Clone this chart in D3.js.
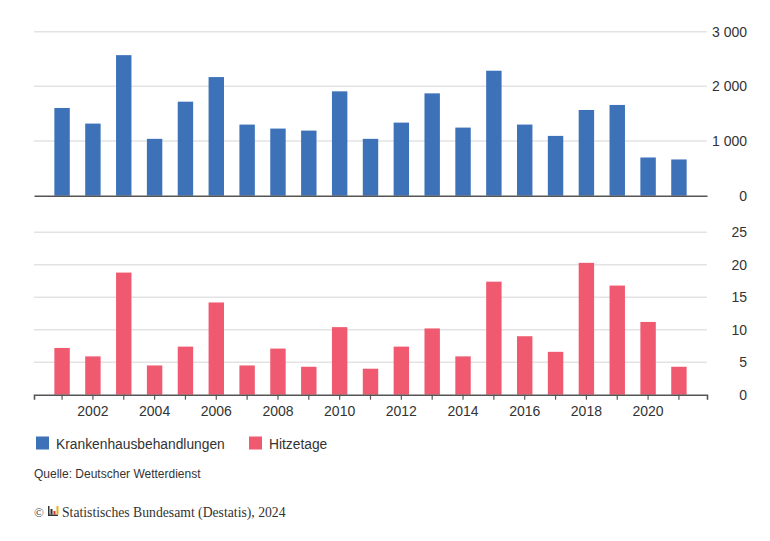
<!DOCTYPE html>
<html>
<head>
<meta charset="utf-8">
<script src="https://cdn.jsdelivr.net/npm/d3@7"></script>
<style>
  body { margin: 0; background: #fff; }
  svg { display: block; font-family: "Liberation Sans", Arial, sans-serif; }
</style>
</head>
<body>
<svg id="chart" width="770" height="541"></svg>
<script>
const years = d3.range(2001, 2022);
const behandlungen = [1605, 1319, 2571, 1040, 1720, 2170, 1301, 1228, 1191, 1909, 1040,
  1337, 1872, 1246, 2286, 1301, 1094, 1568, 1660, 699, 663];
const hitzetage = [7.2, 5.9, 18.8, 4.5, 7.4, 14.2, 4.5, 7.1, 4.3, 10.4, 4.0,
  7.4, 10.2, 5.9, 17.4, 9.0, 6.6, 20.3, 16.8, 11.2, 4.3];
const topTicks = [0, 1000, 2000, 3000];
const bottomTicks = [0, 5, 10, 15, 20, 25];
const seriesNames = ["Krankenhausbehandlungen", "Hitzetage"];
const colors = ["#3d71b8", "#f05a71"];

const svg = d3.select("#chart");
const left = 34, right = 707, labelX = 747;

const de = d3.formatLocale({ decimal: ",", thousands: " ", grouping: [3], currency: ["", " €"] });
const fmt = de.format(",");

const x = d3.scaleBand()
  .domain(years)
  .range([left, right])
  .paddingInner(0.5)
  .paddingOuter(0.66);

function panel(values, ticks, y0, y1, color, showYears) {
  const y = d3.scaleLinear().domain([0, d3.max(ticks)]).range([y0, y1]);
  const g = svg.append("g");

  // gridlines
  g.append("g")
    .selectAll("line")
    .data(ticks.filter(d => d > 0))
    .join("line")
    .attr("x1", left)
    .attr("x2", right)
    .attr("y1", d => y(d))
    .attr("y2", d => y(d))
    .attr("stroke", "#e3e3e3")
    .attr("stroke-width", 1.5);

  // labels on the right
  const yAxis = g.append("g")
    .attr("transform", `translate(${labelX},0)`)
    .call(d3.axisRight(y).tickValues(ticks).tickSize(0).tickPadding(0).tickFormat(fmt));
  yAxis.select(".domain").remove();
  yAxis.selectAll("text")
    .attr("text-anchor", "end")
    .attr("fill", "#333")
    .style("font-size", "14px");

  g.append("g")
    .selectAll("rect")
    .data(values)
    .join("rect")
    .attr("x", (d, i) => x(years[i]))
    .attr("width", x.bandwidth())
    .attr("y", d => y(d))
    .attr("height", d => y0 - y(d))
    .attr("fill", color);

  const xAxis = g.append("g")
    .attr("transform", `translate(0,${y0})`)
    .call(d3.axisBottom(x)
      .tickSizeOuter(0)
      .tickSize(showYears ? 5 : 0)
      .tickPadding(6)
      .tickFormat(d => (showYears && d % 2 === 0) ? d : ""));
  xAxis.select(".domain").attr("stroke", "#555").attr("stroke-width", 1.6);
  xAxis.selectAll(".tick line").attr("stroke", "#555").attr("stroke-width", 1.2);
  xAxis.selectAll("text").attr("fill", "#333").style("font-size", "14px");
}

panel(behandlungen, topTicks, 195.7, 31.7, colors[0], false);
panel(hitzetage, bottomTicks, 394.7, 232.3, colors[1], true);

// legend
const legend = svg.append("g");
const legendX = [36, 249];
seriesNames.forEach((name, i) => {
  legend.append("rect")
    .attr("x", legendX[i])
    .attr("y", 436.5)
    .attr("width", 13)
    .attr("height", 13)
    .attr("fill", colors[i]);
  legend.append("text")
    .attr("x", legendX[i] + 20)
    .attr("y", 449)
    .attr("fill", "#333")
    .style("font-size", "13.8px")
    .text(name);
});

svg.append("text")
  .attr("x", 34)
  .attr("y", 477.5)
  .attr("fill", "#333")
  .style("font-size", "12px")
  .text("Quelle: Deutscher Wetterdienst");

// copyright line
const foot = svg.append("g");
foot.append("text")
  .attr("x", 34)
  .attr("y", 517)
  .attr("fill", "#444")
  .style("font-family", "'Liberation Serif', 'Times New Roman', serif")
  .style("font-size", "13px")
  .text("©");
const logo = foot.append("g").attr("transform", "translate(48,506)");
logo.append("rect").attr("x", 0).attr("y", 0).attr("width", 1.5).attr("height", 10).attr("fill", "#333");
logo.append("rect").attr("x", 0).attr("y", 8.5).attr("width", 10).attr("height", 1.5).attr("fill", "#333");
logo.append("rect").attr("x", 2.5).attr("y", 3).attr("width", 2).attr("height", 5.5).attr("fill", "#333");
logo.append("rect").attr("x", 5.5).attr("y", 5).attr("width", 2).attr("height", 3.5).attr("fill", "#d33");
logo.append("rect").attr("x", 8.5).attr("y", 0).attr("width", 2).attr("height", 8.5).attr("fill", "#e8b020");
foot.append("text")
  .attr("x", 62)
  .attr("y", 517)
  .attr("fill", "#333")
  .style("font-family", "'Liberation Serif', 'Times New Roman', serif")
  .style("font-size", "13.7px")
  .text("Statistisches Bundesamt (Destatis), 2024");
</script>
</body>
</html>
